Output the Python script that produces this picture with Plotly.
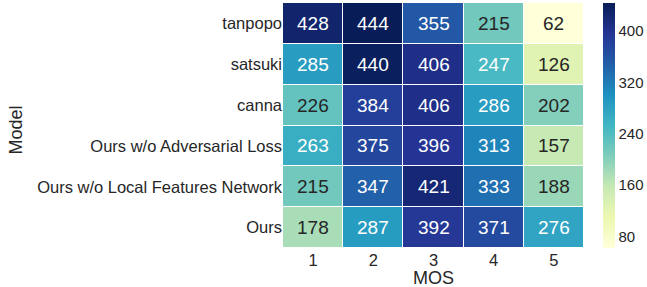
import plotly.graph_objects as go

models = ["tanpopo", "satsuki", "canna", "Ours w/o Adversarial Loss",
          "Ours w/o Local Features Network", "Ours"]
mos = ["1", "2", "3", "4", "5"]
values = [
    [428, 444, 355, 215, 62],
    [285, 440, 406, 247, 126],
    [226, 384, 406, 286, 202],
    [263, 375, 396, 313, 157],
    [215, 347, 421, 333, 188],
    [178, 287, 392, 371, 276],
]
cbar_ticks = [80, 160, 240, 320, 400]

ylgnbu = ['rgb(255,255,217)', 'rgb(237,248,177)', 'rgb(199,233,180)',
          'rgb(127,205,187)', 'rgb(65,182,196)', 'rgb(29,145,192)',
          'rgb(34,94,168)', 'rgb(37,52,148)', 'rgb(8,29,88)']
cs = [[i / (len(ylgnbu) - 1), c] for i, c in enumerate(ylgnbu)]

FONT = "Liberation Sans, Arial, sans-serif"
DARK = "#262626"

fig = go.Figure(go.Heatmap(
    z=values, x=mos, y=models, colorscale=cs,
    zmin=62, zmax=444, xgap=1, ygap=1,
    colorbar=dict(x=1.063, xanchor="left", y=0.5, yanchor="middle",
                  len=1.0, lenmode="fraction", thickness=12, xpad=0, ypad=0,
                  outlinewidth=0, tickvals=cbar_ticks, ticks="",
                  tickfont=dict(family=FONT, size=15, color=DARK)),
    hoverinfo="skip",
))

anns = []
for i, m in enumerate(models):
    for j, k in enumerate(mos):
        v = values[i][j]
        col = "white" if v >= 240 else DARK
        anns.append(dict(x=j, y=m, text=str(v), showarrow=False,
                         font=dict(family=FONT, size=19, color=col)))
anns.append(dict(text="MOS", xref="paper", yref="paper", x=0.5, y=-0.122,
                 xanchor="center", yanchor="middle", showarrow=False,
                 font=dict(family=FONT, size=18, color=DARK)))
anns.append(dict(text="Model", xref="paper", yref="paper", x=-0.887, y=0.48,
                 xanchor="center", yanchor="middle", showarrow=False, textangle=-90,
                 font=dict(family=FONT, size=18, color=DARK)))

fig.update_layout(
    width=647, height=287,
    margin=dict(l=283, r=63, t=3, b=39, autoexpand=False),
    paper_bgcolor="white", plot_bgcolor="white",
    annotations=anns,
    xaxis=dict(type="category", showgrid=False, zeroline=False, ticks="",
               tickfont=dict(family=FONT, size=16.5, color=DARK)),
    yaxis=dict(type="category", showgrid=False, zeroline=False, ticks="",
               autorange="reversed",
               tickfont=dict(family=FONT, size=16.5, color=DARK)),
)
fig.write_html("out.html", config={"displayModeBar": False},
               post_script="document.body.style.margin='0';document.body.style.padding='0';")
